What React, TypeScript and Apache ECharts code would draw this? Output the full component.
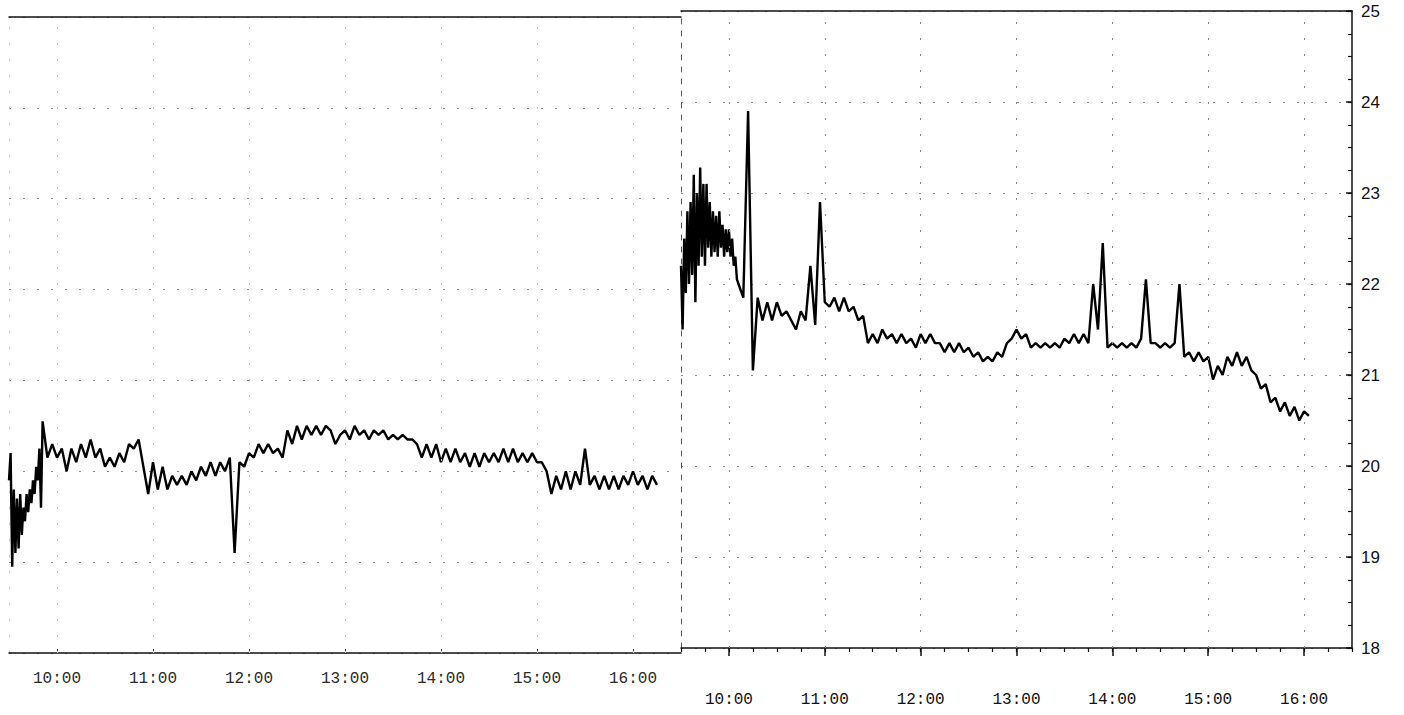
import React, { useEffect, useRef } from "react";
import * as echarts from "echarts";

const openHour = 9.5; // 9:30 open
const hourTicks = [10, 11, 12, 13, 14, 15, 16];
const priceTicks = [18, 19, 20, 21, 22, 23, 24, 25];

// Day 1, opening burst: one reading per minute from 9:30 to 9:50
const day1OpenPrices = [
  19.9, 20.2, 18.95, 19.8, 19.1, 19.7, 19.15, 19.75, 19.3, 19.6,
  19.45, 19.75, 19.55, 19.8, 19.65, 19.9, 19.75, 20.05, 19.9, 20.25,
  19.6,
];
const day1RestStart = 21; // minutes after open
// Day 1, rest of the session: one reading every 3 minutes from 9:51
const day1Prices = [
  20.55, 20.15, 20.3,
  20.15, 20.25, 20.0, 20.25, 20.1, 20.3, 20.15, 20.35, 20.15, 20.25,
  20.05, 20.15, 20.05, 20.2, 20.1, 20.3, 20.25, 20.35, 20.05, 19.75,
  20.1, 19.8, 20.05, 19.8, 19.95, 19.85, 19.95, 19.85, 20.0, 19.9,
  20.05, 19.95, 20.1, 19.95, 20.1, 20.0, 20.15, 19.1, 20.1, 20.05,
  20.2, 20.15, 20.3, 20.2, 20.3, 20.2, 20.25, 20.15, 20.45, 20.3,
  20.5, 20.35, 20.5, 20.4, 20.5, 20.4, 20.5, 20.45, 20.3, 20.4,
  20.45, 20.35, 20.5, 20.4, 20.45, 20.35, 20.45, 20.4, 20.45, 20.35,
  20.4, 20.35, 20.4, 20.35, 20.35, 20.3, 20.15, 20.3, 20.15, 20.3,
  20.1, 20.25, 20.1, 20.25, 20.1, 20.2, 20.05, 20.2, 20.05, 20.2,
  20.1, 20.2, 20.1, 20.25, 20.1, 20.25, 20.1, 20.2, 20.1, 20.2,
  20.1, 20.1, 20.0, 19.75, 19.95, 19.8, 20.0, 19.8, 20.0, 19.85,
  20.25, 19.85, 19.95, 19.8, 19.95, 19.8, 19.95, 19.8, 19.95, 19.85,
  20.0, 19.85, 19.95, 19.8, 19.95, 19.85,
];

// Day 2, opening burst: one reading per minute from 9:30 to 10:05
const day2OpenPrices = [
  22.2, 21.5, 22.5, 21.9, 22.8, 22.0, 22.9, 22.1, 23.2, 21.8,
  23.0, 22.2, 23.28, 22.3, 23.1, 22.2, 23.1, 22.4, 22.9, 22.3,
  22.8, 22.35, 22.75, 22.3, 22.8, 22.4, 22.65, 22.3, 22.6, 22.35,
  22.6, 22.3, 22.5, 22.2, 22.3, 22.05,
];
const day2RestStart = 36; // minutes after open
// Day 2, rest of the session: one reading every 3 minutes from 10:06
const day2Prices = [
  22.0, 21.85, 23.9, 21.05, 21.85, 21.6, 21.8, 21.6,
  21.8, 21.65, 21.7, 21.6, 21.5, 21.7, 21.6, 22.2, 21.55, 22.9,
  21.8, 21.75, 21.85, 21.7, 21.85, 21.7, 21.75, 21.6, 21.65, 21.35,
  21.45, 21.35, 21.5, 21.4, 21.45, 21.35, 21.45, 21.35, 21.4, 21.3,
  21.45, 21.35, 21.45, 21.35, 21.35, 21.25, 21.35, 21.25, 21.35, 21.25,
  21.3, 21.2, 21.25, 21.15, 21.2, 21.15, 21.25, 21.2, 21.35, 21.4,
  21.5, 21.4, 21.45, 21.3, 21.35, 21.3, 21.35, 21.3, 21.35, 21.3,
  21.4, 21.35, 21.45, 21.35, 21.45, 21.35, 22.0, 21.5, 22.45, 21.3,
  21.35, 21.3, 21.35, 21.3, 21.35, 21.3, 21.4, 22.05, 21.35, 21.35,
  21.3, 21.35, 21.3, 21.35, 22.0, 21.2, 21.25, 21.15, 21.25, 21.15,
  21.2, 20.95, 21.1, 21.0, 21.2, 21.1, 21.25, 21.1, 21.2, 21.05,
  21.0, 20.85, 20.9, 20.7, 20.75, 20.6, 20.7, 20.55, 20.65, 20.5,
  20.6, 20.55,
];

const toPoints = (open: number[], rest: number[], restStart: number) => [
  ...open.map((p, i) => [openHour + i / 60, p]),
  ...rest.map((p, i) => [openHour + (restStart + i * 3) / 60, p]),
];

const FONT_X = "'Liberation Mono', 'DejaVu Sans Mono', monospace";
const FONT_Y = "'Liberation Sans', 'DejaVu Sans', sans-serif";

export default function App() {
  const ref = useRef<HTMLDivElement>(null);

  useEffect(() => {
    if (!ref.current) return;
    const chart = echarts.init(ref.current, null, { renderer: "svg" });

    const dottedSplit = {
      show: true,
      lineStyle: { color: "#8a8a8a", width: 1, type: [2, 12] as any },
    };
    const hourLines = (color: string) => ({
      silent: true,
      symbol: ["none", "none"],
      label: { show: false },
      lineStyle: { color, width: 1, type: [2, 14] as any },
      data: hourTicks.map((h) => ({ xAxis: h })),
    });

    const baseX = {
      type: "value",
      min: openHour,
      max: 16.5,
      interval: 0.5,
      splitLine: { show: false },
    };

    const option: any = {
      animation: false,
      backgroundColor: "#ffffff",
      grid: [
        { left: 9, top: 17, width: 672, height: 636 },
        { left: 681, top: 11, width: 671, height: 637 },
      ],
      xAxis: [
        {
          ...baseX,
          gridIndex: 0,
          position: "bottom",
          axisLine: { show: true, lineStyle: { color: "#111", width: 1.5 } },
          axisTick: {
            show: true,
            customValues: hourTicks,
            inside: true,
            length: 4,
            lineStyle: { color: "#333", width: 1 },
          },
          axisLabel: {
            show: true,
            customValues: hourTicks,
            formatter: (v: number) => `${v}:00`,
            margin: 18,
            fontFamily: FONT_X,
            fontSize: 16,
            color: "#2a2a2a",
          },
        },
        {
          ...baseX,
          gridIndex: 0,
          position: "top",
          axisLine: { show: true, lineStyle: { color: "#111", width: 1.5 } },
          axisTick: { show: false },
          axisLabel: { show: false },
        },
        {
          ...baseX,
          gridIndex: 1,
          position: "bottom",
          axisLine: { show: true, lineStyle: { color: "#111", width: 1.5 } },
          axisTick: {
            show: true,
            customValues: hourTicks,
            length: 8,
            lineStyle: { color: "#111", width: 1.5 },
          },
          axisLabel: {
            show: true,
            customValues: hourTicks,
            formatter: (v: number) => `${v}:00`,
            margin: 44,
            fontFamily: FONT_X,
            fontSize: 16,
            color: "#111",
          },
        },
        {
          type: "value",
          min: openHour,
          max: 16.5,
          interval: 0.25,
          gridIndex: 1,
          position: "bottom",
          axisLine: { show: false },
          axisTick: { show: true, length: 4, lineStyle: { color: "#111", width: 1.2 } },
          axisLabel: { show: false },
          splitLine: { show: false },
        },
        {
          ...baseX,
          gridIndex: 1,
          position: "top",
          axisLine: { show: true, lineStyle: { color: "#111", width: 1.5 } },
          axisTick: { show: false },
          axisLabel: { show: false },
        },
      ],
      yAxis: [
        {
          type: "value",
          gridIndex: 0,
          min: 18,
          max: 25,
          interval: 1,
          position: "left",
          axisLine: { show: true, lineStyle: { color: "#c8c8c8", width: 1, type: [2, 14] } },
          axisTick: { show: false },
          axisLabel: { show: false },
          splitLine: dottedSplit,
        },
        {
          type: "value",
          gridIndex: 1,
          min: 18,
          max: 25,
          interval: 1,
          position: "right",
          axisLine: { show: true, lineStyle: { color: "#111", width: 1.5 } },
          axisTick: { show: true, inside: true, length: 6, lineStyle: { color: "#111", width: 1.5 } },
          axisLabel: {
            show: true,
            margin: 9,
            fontFamily: FONT_Y,
            fontSize: 17,
            color: "#111",
            customValues: priceTicks,
          },
          splitLine: dottedSplit,
        },
        {
          type: "value",
          gridIndex: 1,
          min: 18,
          max: 25,
          interval: 0.25,
          position: "right",
          axisLine: { show: false },
          axisTick: { show: true, inside: true, length: 4, lineStyle: { color: "#111", width: 1.2 } },
          axisLabel: { show: false },
          splitLine: { show: false },
        },
        {
          type: "value",
          gridIndex: 1,
          min: 18,
          max: 25,
          interval: 1,
          position: "left",
          axisLine: { show: true, lineStyle: { color: "#555", width: 1, type: [5, 7] } },
          axisTick: { show: false },
          axisLabel: { show: false },
          splitLine: { show: false },
        },
      ],
      series: [
        {
          type: "line",
          xAxisIndex: 0,
          yAxisIndex: 0,
          data: toPoints(day1OpenPrices, day1Prices, day1RestStart),
          showSymbol: false,
          lineStyle: { color: "#000", width: 2.4 },
          markLine: hourLines("#c4c4c4"),
        },
        {
          type: "line",
          xAxisIndex: 2,
          yAxisIndex: 1,
          data: toPoints(day2OpenPrices, day2Prices, day2RestStart),
          showSymbol: false,
          lineStyle: { color: "#000", width: 2.4 },
          markLine: hourLines("#8a8a8a"),
        },
      ],
    };

    chart.setOption(option);
    return () => chart.dispose();
  }, []);

  return (
    <div
      ref={ref}
      style={{ position: "absolute", left: 0, top: 0, width: 1404, height: 715, background: "#fff" }}
    />
  );
}
